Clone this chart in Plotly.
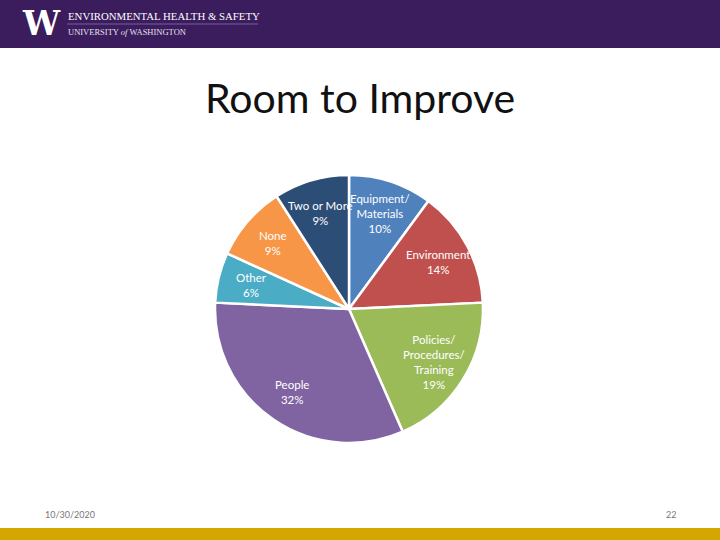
import math
import plotly.graph_objects as go

# Data
categories = ["Equipment/<br>Materials", "Environment", "Policies/<br>Procedures/<br>Training",
              "People", "Other", "None", "Two or More"]
values = [10, 14, 19, 32, 6, 9, 9]
pct_labels = ["10%", "14%", "19%", "32%", "6%", "9%", "9%"]
colors = ["#4F81BD", "#C0504D", "#9BBB59", "#8064A2", "#4BACC6", "#F79646", "#2C4D75"]

W, H = 720, 540
cx, cy, R = 349, 309, 134  # pie centre / radius in pixels (layout)

fig = go.Figure()
fig.add_trace(go.Pie(
    labels=[c.replace("<br>", " ") for c in categories],
    values=values,
    sort=False,
    direction="clockwise",
    rotation=0,
    marker=dict(colors=colors, line=dict(color="white", width=2.5)),
    textinfo="none",
    hoverinfo="label+percent",
    showlegend=False,
    domain=dict(x=[(cx - R) / W, (cx + R) / W],
                y=[(H - cy - R) / H, (H - cy + R) / H]),
))

# Labels placed at each slice's mid-angle (computed from data)
total = sum(values)
cum = 0
label_r = 0.75 * R
annotations = []
for cat, v, p in zip(categories, values, pct_labels):
    mid = (cum + v / 2) / total * 2 * math.pi
    cum += v
    px = cx + label_r * math.sin(mid)
    py = (H - cy) + label_r * math.cos(mid)
    annotations.append(dict(
        x=px / W, y=py / H, xref="paper", yref="paper",
        text=f"{cat}<br>{p}", showarrow=False,
        font=dict(family="Lato, Carlito, sans-serif", size=11.5, color="white"),
        align="center", xanchor="center", yanchor="middle",
    ))

# Slide decorations
shapes = [
    dict(type="rect", xref="paper", yref="paper", x0=0, x1=1, y0=1 - 48 / H, y1=1,
         fillcolor="#3B1C5C", line=dict(width=0), layer="below"),
    dict(type="rect", xref="paper", yref="paper", x0=0, x1=1, y0=0, y1=12 / H,
         fillcolor="#D4A600", line=dict(width=0), layer="below"),
    dict(type="line", xref="paper", yref="paper", x0=67 / W, x1=258 / W,
         y0=1 - 24 / H, y1=1 - 24 / H, line=dict(color="#7B5FA0", width=1)),
]

annotations += [
    dict(x=41 / W, y=1 - 24 / H, xref="paper", yref="paper", text="<b>W</b>",
         showarrow=False, font=dict(family="DejaVu Serif, serif", size=33, color="white"),
         xanchor="center", yanchor="middle"),
    dict(x=66 / W, y=1 - 16 / H, xref="paper", yref="paper",
         text="ENVIRONMENTAL HEALTH &amp; SAFETY",
         showarrow=False, font=dict(family="Liberation Serif, serif", size=10.8, color="white"),
         xanchor="left", yanchor="middle"),
    dict(x=66 / W, y=1 - 31.5 / H, xref="paper", yref="paper",
         text="UNIVERSITY <i>of</i> WASHINGTON",
         showarrow=False, font=dict(family="Liberation Serif, serif", size=8.5, color="#E6E0EE"),
         xanchor="left", yanchor="middle"),
    dict(x=360 / W, y=1 - 98 / H, xref="paper", yref="paper", text="Room to Improve",
         showarrow=False, font=dict(family="Lato, Carlito, sans-serif", size=41, color="#111111"),
         xanchor="center", yanchor="middle"),
    dict(x=43 / W, y=1 - 514 / H, xref="paper", yref="paper", text="10/30/2020",
         showarrow=False, font=dict(family="Lato, sans-serif", size=9, color="#777777"),
         xanchor="left", yanchor="middle"),
    dict(x=678 / W, y=1 - 514 / H, xref="paper", yref="paper", text="22",
         showarrow=False, font=dict(family="Lato, sans-serif", size=9, color="#777777"),
         xanchor="right", yanchor="middle"),
]

fig.update_layout(
    width=W, height=H,
    margin=dict(l=0, r=0, t=0, b=0),
    paper_bgcolor="white", plot_bgcolor="white",
    shapes=shapes, annotations=annotations,
)

fig.write_html("out.html",
               config={"displayModeBar": False},
               post_script="document.body.style.margin='0';document.body.style.overflow='hidden';")
